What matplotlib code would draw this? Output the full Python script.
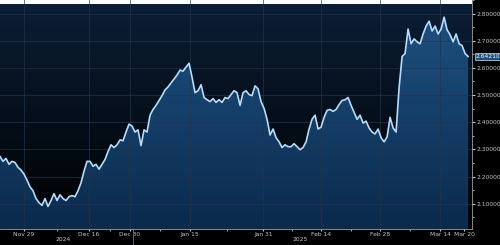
"""Bloomberg-style dark area chart of a rate, Nov 2024 - Mar 2025."""
import numpy as np
import matplotlib
matplotlib.use("Agg")
import matplotlib.pyplot as plt
from matplotlib.colors import LinearSegmentedColormap


# Series values, one sample per step
values = [
    2.274, 2.256, 2.267, 2.245, 2.256, 2.252, 2.234, 2.224, 2.209, 2.187,
    2.162, 2.148, 2.119, 2.104, 2.094, 2.119, 2.090, 2.112, 2.137, 2.112,
    2.133, 2.119, 2.112, 2.126, 2.130, 2.126, 2.148, 2.177, 2.220, 2.256,
    2.256, 2.238, 2.245, 2.227, 2.245, 2.263, 2.292, 2.317, 2.307, 2.317,
    2.335, 2.332, 2.364, 2.393, 2.386, 2.364, 2.372, 2.314, 2.372, 2.364,
    2.426, 2.447, 2.462, 2.480, 2.498, 2.519, 2.530, 2.545, 2.559, 2.574,
    2.592, 2.588, 2.603, 2.617, 2.566, 2.509, 2.516, 2.538, 2.491, 2.483,
    2.476, 2.487, 2.473, 2.483, 2.473, 2.491, 2.487, 2.502, 2.516, 2.509,
    2.462, 2.509, 2.516, 2.502, 2.498, 2.534, 2.523, 2.476, 2.451, 2.411,
    2.353, 2.375, 2.343, 2.328, 2.307, 2.317, 2.310, 2.310, 2.321, 2.310,
    2.299, 2.307, 2.328, 2.375, 2.411, 2.426, 2.375, 2.382, 2.418, 2.444,
    2.447, 2.440, 2.447, 2.465, 2.480, 2.483, 2.491, 2.462, 2.437, 2.411,
    2.426, 2.397, 2.404, 2.379, 2.364, 2.357, 2.375, 2.343, 2.328, 2.346,
    2.418, 2.379, 2.364, 2.527, 2.642, 2.653, 2.743, 2.689, 2.707, 2.696,
    2.689, 2.725, 2.754, 2.772, 2.736, 2.754, 2.725, 2.743, 2.787, 2.740,
    2.722, 2.696, 2.725, 2.689, 2.682, 2.653, 2.642,
]
last_label = "2.64210"

# Date ticks (sample index where each date falls)
date_labels = ["Nov 29", "Dec 16", "Dec 30", "Jan 15", "Jan 31",
               "Feb 14", "Feb 28", "Mar 14", "Mar 20"]
date_idx = [8, 29.7, 43.3, 63.3, 87.7, 107, 126.7, 146.7, 154.7]
years = ["2024", "2025"]
year_idx = [21, 100]

y_ticks = [2.1, 2.2, 2.3, 2.4, 2.5, 2.6, 2.7, 2.8]

TXT = "#c4c8cc"
GRID = "#22344a"
FS = 4.3

fig = plt.figure(figsize=(5, 2.45), dpi=100, facecolor="black")
ax = fig.add_axes([0.0, 0.0653, 0.944, 0.9347])

x = np.arange(len(values))
y = np.array(values)
xmin, xmax = 0, 157.3
ymin, ymax = 2.007, 2.8336
ax.set_xlim(xmin, xmax)
ax.set_ylim(ymin, ymax)

# background gradient: black at top, dark navy at bottom
bg = LinearSegmentedColormap.from_list("bg", ["#000000", "#0b1e36"])
grad = np.linspace(0, 1, 256).reshape(-1, 1)
ax.imshow(grad, cmap=bg, aspect="auto", extent=[xmin, xmax, ymax, ymin],
          origin="upper", zorder=0)

# area fill gradient clipped to the area under the line
fill = ax.fill_between(x, y, ymin, color="none", lw=0)
fc = LinearSegmentedColormap.from_list("fc", ["#0b2a4c", "#1f5283"])
img = ax.imshow(grad[::-1], cmap=fc, aspect="auto",
                extent=[xmin, xmax, ymin, ymax], origin="upper", zorder=1)
img.set_clip_path(fill.get_paths()[0], transform=ax.transData)

ax.plot(x, y, color="#b5dcfa", lw=1.2, zorder=3)

# grid
for v in y_ticks:
    ax.axhline(v, color=GRID, lw=0.6, alpha=0.8, zorder=2)
for d in date_idx[:-1]:
    ax.axvline(d, color=GRID, lw=0.6, alpha=0.8, zorder=2)

# right axis
ax.yaxis.tick_right()
ax.set_yticks(y_ticks)
ax.set_yticklabels([f"{v:.5f}" for v in y_ticks], color=TXT, fontsize=FS)
ax.set_yticks([v + 0.05 for v in [2.0] + y_ticks], minor=True)
ax.tick_params(axis="y", which="major", length=2, color=TXT, pad=1)
ax.tick_params(axis="y", which="minor", length=1.2, color=TXT)

ax.set_xticks(date_idx)
ax.set_xticklabels(date_labels, color=TXT, fontsize=FS)
mid = [(a + b) / 2 for a, b in zip(date_idx[:-2], date_idx[1:-1])]
ax.set_xticks(mid, minor=True)
ax.tick_params(axis="x", which="major", length=1.5, color=TXT, pad=1)
ax.tick_params(axis="x", which="minor", length=1.5, color=TXT)

for side in ["top", "left"]:
    ax.spines[side].set_visible(False)
ax.spines["right"].set_color("#9aa0a6")
ax.spines["bottom"].set_color("#9aa0a6")
ax.spines["right"].set_linewidth(0.6)
ax.spines["bottom"].set_linewidth(0.6)

# year labels
for lab, xi in zip(years, year_idx):
    ax.text(xi, -0.048, lab, transform=ax.get_xaxis_transform(),
            color=TXT, fontsize=FS, ha="center", va="center")
ax.plot([44.3, 44.3], [0, -0.07], transform=ax.get_xaxis_transform(),
        color="#6a7078", lw=0.6, clip_on=False)

# last value box
ax.annotate(last_label, xy=(1.0, values[-1]),
            xycoords=("axes fraction", "data"),
            xytext=(2.5, 0), textcoords="offset points",
            fontsize=FS, color="white", va="center", ha="left",
            bbox=dict(boxstyle="square,pad=0.12", fc="#1f4e7c",
                      ec="#cfe6ff", lw=0.5),
            annotation_clip=False)

fig.savefig("out.png", dpi=100, facecolor="black")
